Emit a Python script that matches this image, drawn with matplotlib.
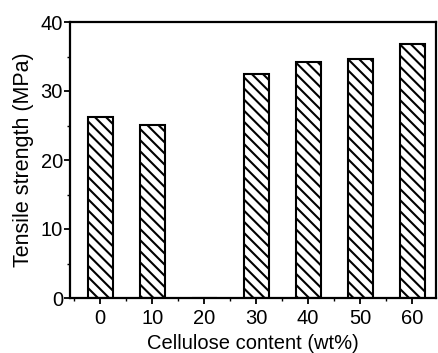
import matplotlib
matplotlib.use("Agg")
import matplotlib.pyplot as plt
from matplotlib.ticker import MultipleLocator

plt.rcParams['font.family'] = ['Liberation Sans', 'DejaVu Sans']
plt.rcParams['hatch.linewidth'] = 1.5

content = [0, 10, 20, 30, 40, 50, 60]
strength = [26.2, 25.1, 0, 32.5, 34.2, 34.6, 36.8]
xticks = [0, 10, 20, 30, 40, 50, 60]
yticks = [0, 10, 20, 30, 40]

fig = plt.figure(figsize=(4.38, 3.53), dpi=100)
ax = fig.add_axes([70/438, 1-298/353, (436-70)/438, (298-22)/353])

ax.bar(content, strength, width=4.8, color='white', edgecolor='black',
       hatch='\\\\\\', linewidth=1.5)

ax.set_xlim(-5.8, 64.6)
ax.set_ylim(0, 40)
ax.set_xticks(xticks)
ax.set_yticks(yticks)
ax.xaxis.set_minor_locator(MultipleLocator(5))
ax.yaxis.set_minor_locator(MultipleLocator(5))
ax.tick_params(which='major', direction='out', length=4, width=1.3, labelsize=14.5)
ax.tick_params(axis='x', which='major', pad=4)
ax.tick_params(axis='y', which='major', pad=1)
ax.tick_params(which='minor', direction='out', length=2.5, width=1)
for s in ax.spines.values():
    s.set_linewidth(1.6)

ax.set_xlabel('Cellulose content (wt%)', fontsize=14.5, labelpad=4)
ax.set_ylabel('Tensile strength (MPa)', fontsize=15.5, labelpad=5)

fig.savefig('out.png', dpi=100)
